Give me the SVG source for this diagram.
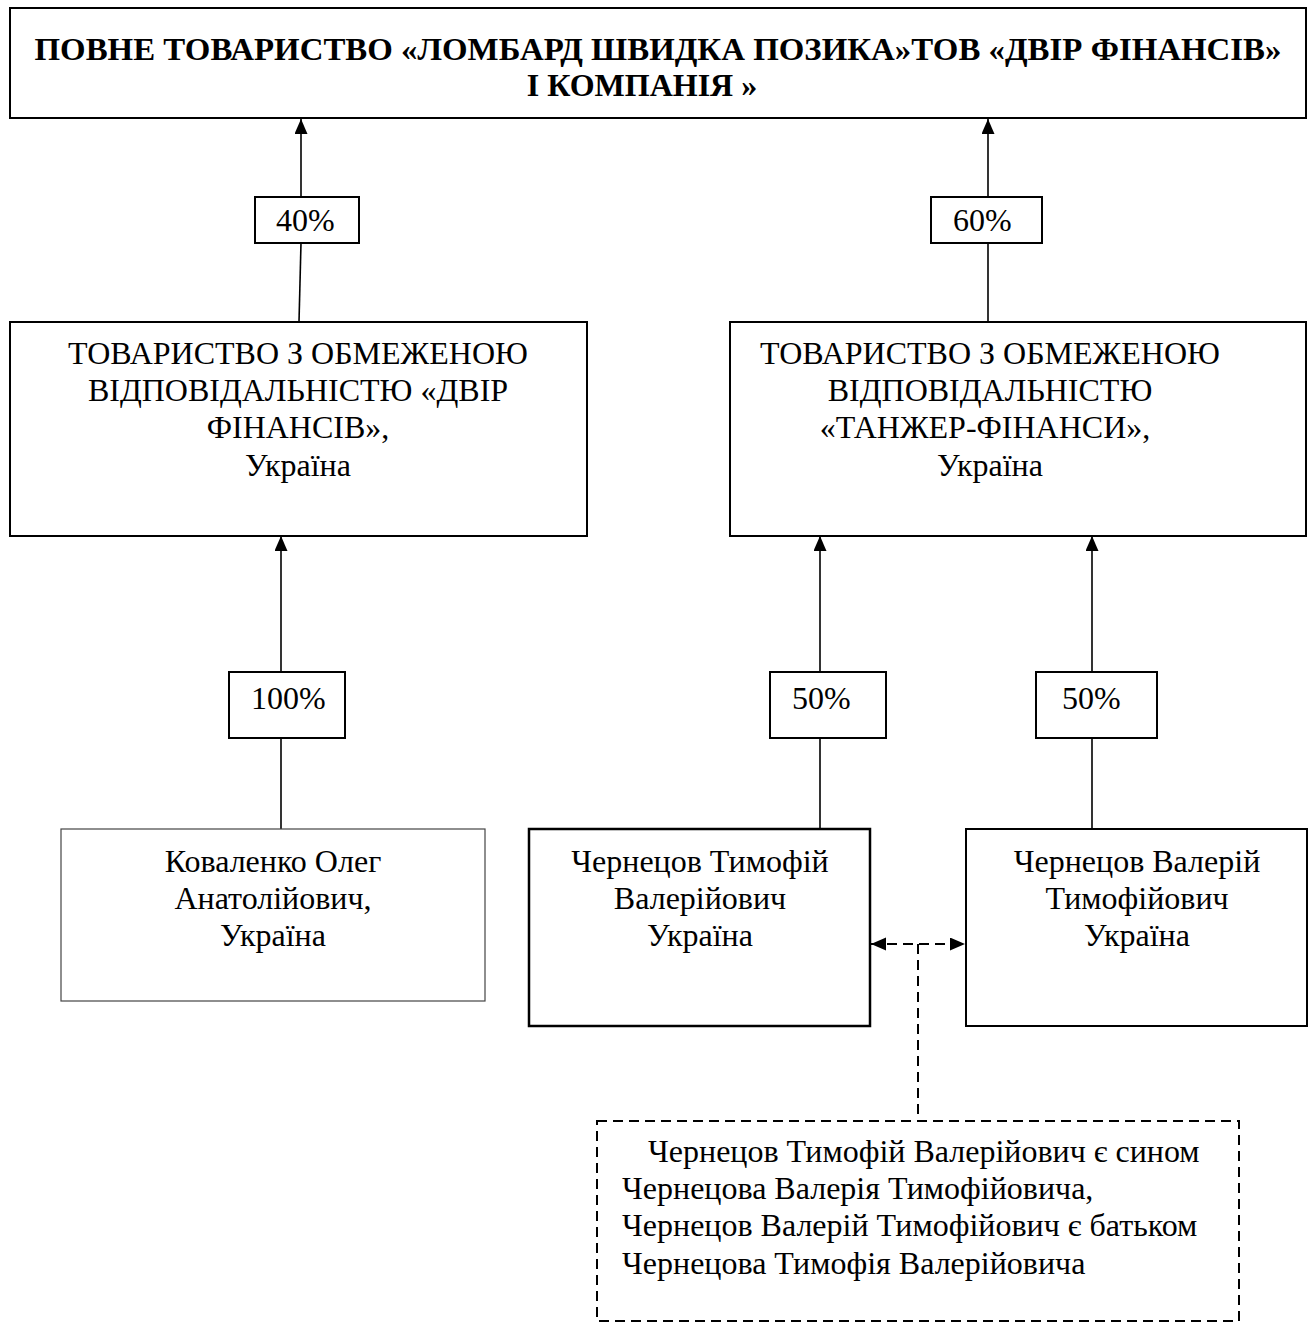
<svg xmlns="http://www.w3.org/2000/svg" width="1314" height="1331" viewBox="0 0 1314 1331">
<style>
  .box { fill: #fff; stroke: #000; stroke-width: 2; }
  .thin { fill: #fff; stroke: #444; stroke-width: 1.2; }
  .dash { fill: none; stroke: #000; stroke-width: 2; stroke-dasharray: 10 6; }
  .ln { stroke: #000; stroke-width: 1.6; fill: none; }
  text { font-family: "Liberation Serif", "Times New Roman", serif; font-size: 32px; fill: #000; }
  .c { text-anchor: middle; }
  .b { font-weight: bold; }
</style>
<defs>
  <marker id="ah" markerUnits="userSpaceOnUse" markerWidth="16" markerHeight="14" refX="15" refY="6.5" orient="auto-start-reverse">
    <path d="M0,0 L15,6.5 L0,13 z" fill="#000" stroke="none"/>
  </marker>
</defs>
<rect width="1314" height="1331" fill="#fff"/>

<g id="connectors">
  <line class="ln" x1="301" y1="197" x2="301" y2="119" marker-end="url(#ah)"/>
  <line class="ln" x1="301" y1="243" x2="299" y2="322"/>
  <line class="ln" x1="988" y1="197" x2="988" y2="119" marker-end="url(#ah)"/>
  <line class="ln" x1="988" y1="243" x2="988" y2="322"/>
  <line class="ln" x1="281" y1="672" x2="281" y2="536" marker-end="url(#ah)"/>
  <line class="ln" x1="281" y1="738" x2="281" y2="829"/>
  <line class="ln" x1="820" y1="672" x2="820" y2="536" marker-end="url(#ah)"/>
  <line class="ln" x1="820" y1="738" x2="820" y2="829"/>
  <line class="ln" x1="1092" y1="672" x2="1092" y2="536" marker-end="url(#ah)"/>
  <line class="ln" x1="1092" y1="738" x2="1092" y2="829"/>
  <line class="dash" x1="871" y1="944" x2="965" y2="944" marker-start="url(#ah)" marker-end="url(#ah)"/>
  <line class="dash" x1="918" y1="944" x2="918" y2="1121"/>
</g>

<g id="top">
  <rect class="box" x="10" y="8" width="1296" height="110"/>
  <text class="c b" x="658" y="60" textLength="1247" lengthAdjust="spacingAndGlyphs">ПОВНЕ ТОВАРИСТВО «ЛОМБАРД ШВИДКА ПОЗИКА»ТОВ «ДВІР ФІНАНСІВ»</text>
  <text class="c b" x="642" y="96">І КОМПАНІЯ »</text>
</g>

<g id="p40">
  <rect class="box" x="255" y="197" width="104" height="46"/>
  <text x="276" y="231">40%</text>
</g>
<g id="p60">
  <rect class="box" x="931" y="197" width="111" height="46"/>
  <text x="953" y="231">60%</text>
</g>

<g id="dvir">
  <rect class="box" x="10" y="322" width="577" height="214"/>
  <text class="c" x="298" y="364">ТОВАРИСТВО З ОБМЕЖЕНОЮ</text>
  <text class="c" x="298" y="401">ВІДПОВІДАЛЬНІСТЮ «ДВІР</text>
  <text class="c" x="298" y="438">ФІНАНСІВ»,</text>
  <text class="c" x="298" y="476">Україна</text>
</g>

<g id="tanzher">
  <rect class="box" x="730" y="322" width="576" height="214"/>
  <text class="c" x="990" y="364">ТОВАРИСТВО З ОБМЕЖЕНОЮ</text>
  <text class="c" x="990" y="401">ВІДПОВІДАЛЬНІСТЮ</text>
  <text class="c" x="985" y="438">«ТАНЖЕР-ФІНАНСИ»,</text>
  <text class="c" x="990" y="476">Україна</text>
</g>

<g id="p100">
  <rect class="box" x="229" y="672" width="116" height="66"/>
  <text x="251" y="709">100%</text>
</g>
<g id="p50a">
  <rect class="box" x="770" y="672" width="116" height="66"/>
  <text x="792" y="709">50%</text>
</g>
<g id="p50b">
  <rect class="box" x="1036" y="672" width="121" height="66"/>
  <text x="1062" y="709">50%</text>
</g>

<g id="kovalenko">
  <rect class="thin" x="61" y="829" width="424" height="172"/>
  <text class="c" x="273" y="872">Коваленко Олег</text>
  <text class="c" x="273" y="909">Анатолійович,</text>
  <text class="c" x="273" y="946">Україна</text>
</g>

<g id="tymofii">
  <rect class="box" x="529" y="829" width="341" height="197" style="stroke-width:2.5"/>
  <text class="c" x="700" y="872">Чернецов Тимофій</text>
  <text class="c" x="700" y="909">Валерійович</text>
  <text class="c" x="700" y="946">Україна</text>
</g>

<g id="valerii">
  <rect class="box" x="966" y="829" width="341" height="197"/>
  <text class="c" x="1137" y="872">Чернецов Валерій</text>
  <text class="c" x="1137" y="909">Тимофійович</text>
  <text class="c" x="1137" y="946">Україна</text>
</g>

<g id="note">
  <rect class="dash" x="597" y="1121" width="642" height="200"/>
  <text x="648" y="1162">Чернецов Тимофій Валерійович є сином</text>
  <text x="622" y="1199">Чернецова Валерія Тимофійовича,</text>
  <text x="622" y="1236">Чернецов Валерій Тимофійович є батьком</text>
  <text x="622" y="1274">Чернецова Тимофія Валерійовича</text>
</g>
</svg>
